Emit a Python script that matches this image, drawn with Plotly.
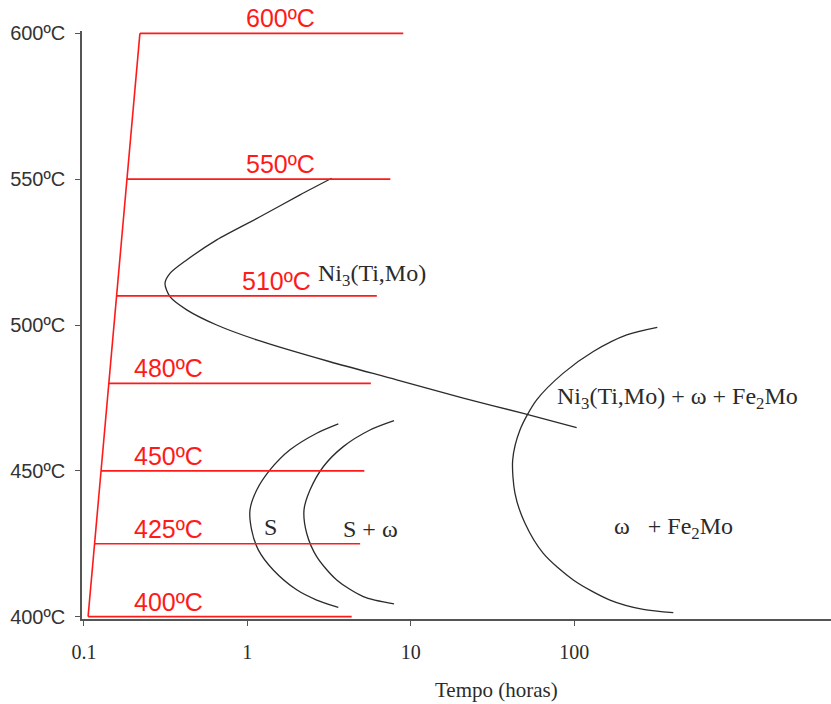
import numpy as np
import plotly.graph_objects as go

# Heating ramp: time (h) vs temperature (ºC)
ramp_t = [0.106, 0.220]
ramp_T = [400, 600]

# Isothermal holds
hold_T = [600, 550, 510, 480, 450, 425, 400]
hold_start = [0.220, 0.183, 0.1584, 0.1419, 0.1272, 0.1161, 0.106]
hold_end = [9.0, 7.5, 6.2, 5.7, 5.2, 4.9, 4.35]
hold_labels = ["600ºC", "550ºC", "510ºC", "480ºC", "450ºC", "425ºC", "400ºC"]

# Ni3(Ti,Mo) precipitation C-curve
ni3_t = [3.282, 2.100, 1.195, 0.6494, 0.4255, 0.3362, 0.3133, 0.3362, 0.4255, 0.6494,
         1.141, 3.204, 8.20, 20.96, 48.84, 103.6]
ni3_T = [550.3, 544.6, 537.1, 529.2, 522.3, 517.7, 514.3, 509.7, 505.2, 500.0,
         494.9, 487.4, 481.2, 474.9, 469.7, 464.8]

# S-phase C-curve
s_t = [3.603, 2.657, 1.824, 1.376, 1.141, 1.038, 1.063, 1.167, 1.441, 2.004, 2.657, 3.603]
s_T = [466.1, 462.9, 457.2, 450.3, 443.4, 436.6, 429.7, 422.9, 416.0, 409.2, 405.7, 403.2]

# S + omega C-curve
sw_t = [7.90, 5.63, 3.865, 2.915, 2.417, 2.222, 2.307, 2.657, 3.522, 5.123, 7.90]
sw_T = [467.2, 464.0, 458.3, 451.4, 443.4, 436.6, 428.6, 420.6, 412.6, 406.9, 404.4]

# omega + Fe2Mo C-curve
fe_t = [322.7, 209.7, 131.0, 85.8, 58.97, 46.6, 42.06, 43.45, 50.02, 64.73, 98.8,
        165.7, 264.9, 404.4]
fe_T = [499.2, 496.6, 490.9, 483.5, 474.3, 464.0, 453.7, 442.3, 432.0, 421.7, 412.6,
        405.7, 402.5, 401.4]

# Phase-field labels
phase_text = ["Ni<sub>3</sub>(Ti,Mo)",
              "Ni<sub>3</sub>(Ti,Mo) + ω + Fe<sub>2</sub>Mo",
              "ω\u00a0\u00a0\u00a0+ Fe<sub>2</sub>Mo",
              "S",
              "S + ω"]

x_tickvals = [0.1, 1, 10, 100]
x_ticktext = ["0.1", "1", "10", "100"]
y_tickvals = [400, 450, 500, 550, 600]
y_ticktext = ["400ºC", "450ºC", "500ºC", "550ºC", "600ºC"]

# where the text items sit (time, temperature)
hold_label_x = {600: 1.6, 550: 1.6, 510: 1.5, 480: 0.33, 450: 0.33, 425: 0.33, 400: 0.33}
phase_pos = [(5.79, 517.2), (432, 475.0), (403, 430.4), (1.376, 430.8), (5.71, 430.1)]

RED = "#ff1a1a"
INK = "#2b2b2b"
SERIF = "Liberation Serif, Times New Roman, serif"
SANS = "Liberation Sans, Arial, sans-serif"

fig = go.Figure()

# transformation curves
for t, T in [(ni3_t, ni3_T), (s_t, s_T), (sw_t, sw_T), (fe_t, fe_T)]:
    fig.add_trace(go.Scatter(x=t, y=T, mode="lines",
                             line=dict(color=INK, width=1.3, shape="spline", smoothing=0.8),
                             hoverinfo="skip", showlegend=False))

# heat-treatment path
fig.add_trace(go.Scatter(x=ramp_t, y=ramp_T, mode="lines",
                         line=dict(color=RED, width=1.6), showlegend=False))
for T, t0, t1 in zip(hold_T, hold_start, hold_end):
    fig.add_trace(go.Scatter(x=[t0, t1], y=[T, T], mode="lines",
                             line=dict(color=RED, width=1.6), showlegend=False))

annotations = []
for T, lab in zip(hold_T, hold_labels):
    annotations.append(dict(x=np.log10(hold_label_x[T]), y=T, xref="x", yref="y", text=lab,
                            showarrow=False, xanchor="center", yanchor="bottom",
                            yshift=-1,
                            font=dict(family=SANS, size=25, color=RED)))

for txt, (t, T) in zip(phase_text, phase_pos):
    annotations.append(dict(x=np.log10(t), y=T, xref="x", yref="y", text=txt,
                            showarrow=False, xanchor="center", yanchor="middle",
                            font=dict(family=SERIF, size=24, color=INK)))

annotations.append(dict(x=(496 - 82) / 749, y=-0.121, xref="paper", yref="paper",
                        text="Tempo (horas)", showarrow=False,
                        xanchor="center", yanchor="middle",
                        font=dict(family=SERIF, size=21, color=INK)))

fig.update_layout(
    width=831, height=704,
    margin=dict(l=82, r=0, t=31, b=85),
    paper_bgcolor="white", plot_bgcolor="white",
    showlegend=False,
    annotations=annotations,
    xaxis=dict(type="log", range=[-1.012, 3.572],
               showgrid=False, zeroline=False,
               showline=True, linecolor="#555", linewidth=1.5,
               ticks="outside", ticklen=5, tickcolor="#555", tickwidth=1.2,
               tickvals=x_tickvals, ticktext=x_ticktext,
               ticklabelstandoff=9,
               tickfont=dict(family=SERIF, size=20, color=INK)),
    yaxis=dict(range=[399.2, 600.8],
               showgrid=False, zeroline=False,
               showline=True, linecolor="#555", linewidth=1.5,
               ticks="outside", ticklen=5, tickcolor="#555", tickwidth=1.2,
               tickvals=y_tickvals, ticktext=y_ticktext,
               ticklabelstandoff=6,
               tickfont=dict(family=SANS, size=20, color="#333")),
)

fig.write_html("out.html")
